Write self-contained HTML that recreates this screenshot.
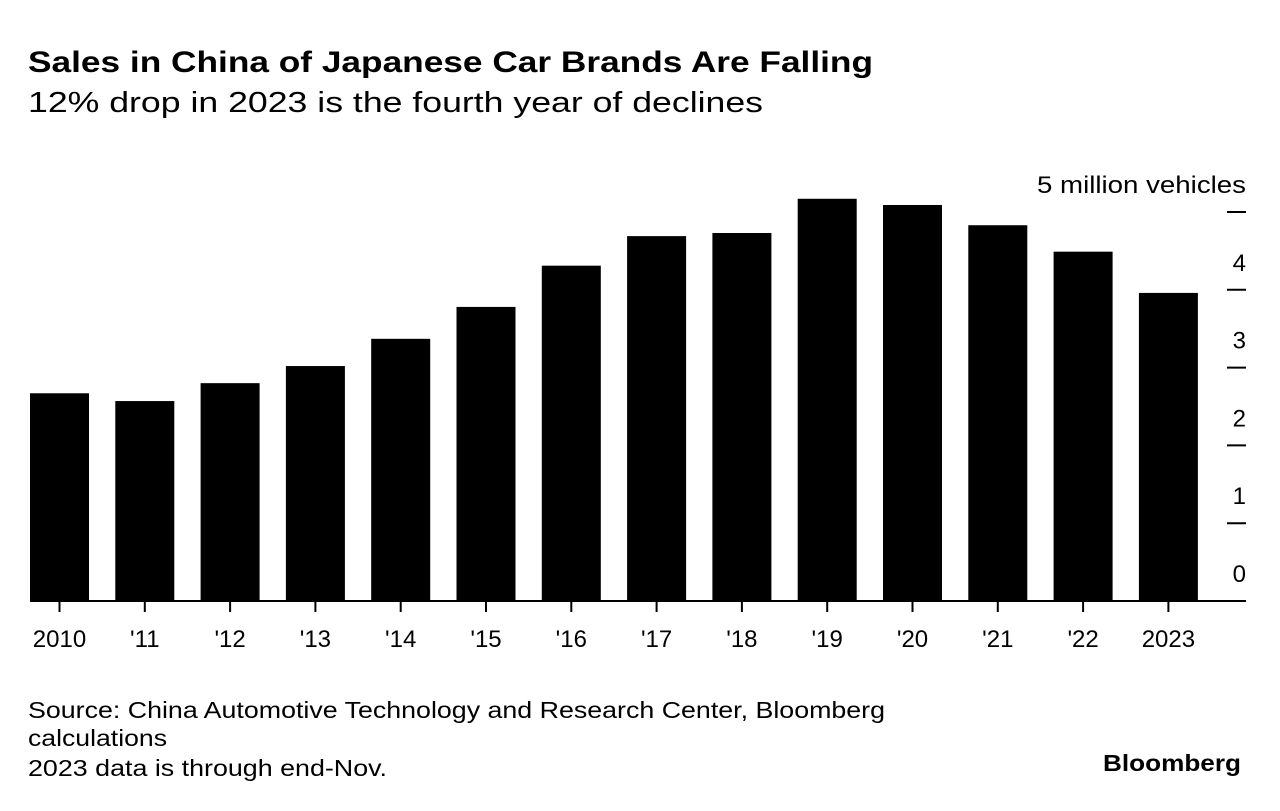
<!DOCTYPE html>
<html><head><meta charset="utf-8"><style>
body{margin:0;background:#fff;font-family:"Liberation Sans",sans-serif;}
svg text{font-family:"Liberation Sans",sans-serif;}
</style></head><body>
<svg width="1280" height="806">
<text x="28" y="72" font-size="30" font-weight="bold" textLength="845" lengthAdjust="spacingAndGlyphs">Sales in China of Japanese Car Brands Are Falling</text>
<text x="28" y="112" font-size="29" textLength="735" lengthAdjust="spacingAndGlyphs">12% drop in 2023 is the fourth year of declines</text>
<g id="bars"></g>
<g id="axes"></g>
<text x="28" y="718" font-size="23" textLength="857" lengthAdjust="spacingAndGlyphs">Source: China Automotive Technology and Research Center, Bloomberg</text>
<text x="28" y="746" font-size="23" textLength="139" lengthAdjust="spacingAndGlyphs">calculations</text>
<text x="28" y="776" font-size="23" textLength="359" lengthAdjust="spacingAndGlyphs">2023 data is through end-Nov.</text>
<text x="1103" y="771" font-size="23" font-weight="bold" textLength="138" lengthAdjust="spacingAndGlyphs">Bloomberg</text>
</svg>
<script>
const categories=["2010","'11","'12","'13","'14","'15","'16","'17","'18","'19","'20","'21","'22","2023"];
const values=[2.67,2.57,2.80,3.02,3.37,3.78,4.31,4.69,4.73,5.17,5.09,4.83,4.49,3.96];
const yTicks=[0,1,2,3,4,5];
const yLabels=["0","1","2","3","4","5 million vehicles"];
const NS="http://www.w3.org/2000/svg";
const y0=601,pxPer=77.8;
function yScale(v){return y0-v*pxPer;}
function xScale(i){return 59.5+i*85.3;}
const bw=59;
const bars=document.getElementById('bars'),axes=document.getElementById('axes');
function mk(tag,attrs,parent){const e=document.createElementNS(NS,tag);for(const k in attrs)e.setAttribute(k,attrs[k]);parent.appendChild(e);return e;}
values.forEach((v,i)=>{
 const r=mk('rect',{x:xScale(i)-bw/2,y:yScale(v),width:bw,height:y0-yScale(v),fill:'#000'},bars);
 
 
 const t=mk('line',{x1:xScale(i),x2:xScale(i),y1:y0,y2:y0+11,stroke:'#000','stroke-width':2},axes);
 
 
 const l=mk('text',{x:xScale(i),y:647,'font-size':24,'text-anchor':'middle'},axes);
 l.textContent=categories[i];
 
 
});
const base=mk('line',{x1:30,x2:1246,y1:y0,y2:y0,stroke:'#000','stroke-width':2},axes);


yTicks.forEach((v,i)=>{
 const y=yScale(v);
 if(v>0){
  const t=mk('line',{x1:1227,x2:1246,y1:y,y2:y,stroke:'#000','stroke-width':2},axes);
  
  
 }
 const l=mk('text',{x:1246,y:y-19,'font-size':24,'text-anchor':'end'},axes);
 l.textContent=yLabels[i];
 if(v===5){l.setAttribute('textLength',209);l.setAttribute('lengthAdjust','spacingAndGlyphs');}
 
 
});
</script>
</body></html>
